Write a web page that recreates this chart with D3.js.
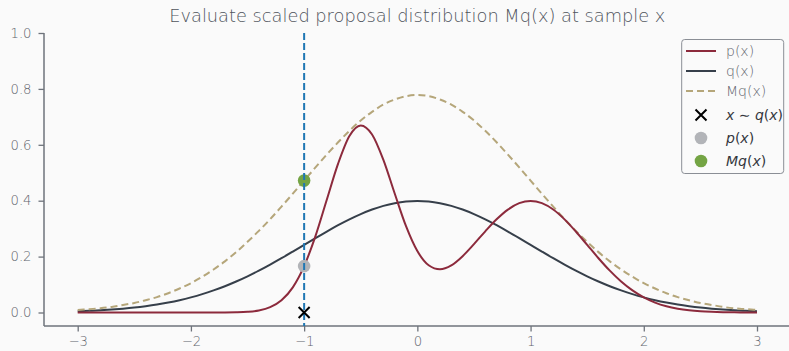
<!DOCTYPE html>
<html><head><meta charset="utf-8">
<script src="https://cdn.jsdelivr.net/npm/d3@7"></script>
<style>
html,body{margin:0;padding:0;background:#fafafa;}
svg{display:block;font-family:"DejaVu Sans",sans-serif;}
.lt{font-weight:200;}
</style></head>
<body><svg id="c" width="789" height="351"></svg>
<script>
// ---- data ----
const xs = [-3.0,-2.9,-2.8,-2.7,-2.6,-2.5,-2.4,-2.3,-2.2,-2.1,-2.0,-1.9,-1.8,-1.7,-1.6,-1.5,-1.4,-1.3,-1.2,-1.1,-1.0,-0.9,-0.8,-0.7,-0.6,-0.5,-0.4,-0.3,-0.2,-0.1,0.0,0.1,0.2,0.3,0.4,0.5,0.6,0.7,0.8,0.9,1.0,1.1,1.2,1.3,1.4,1.5,1.6,1.7,1.8,1.9,2.0,2.1,2.2,2.3,2.4,2.5,2.6,2.7,2.8,2.9,3.0];
const pVals = [0.0000,0.0000,0.0000,0.0000,0.0000,0.0000,0.0000,0.0000,0.0000,0.0000,0.0000,0.0000,0.0001,0.0002,0.0008,0.0026,0.0074,0.0190,0.0437,0.0900,0.1660,0.2734,0.4034,0.5326,0.6315,0.6694,0.6370,0.5461,0.4257,0.3089,0.2199,0.1690,0.1546,0.1687,0.2016,0.2446,0.2905,0.3335,0.3683,0.3911,0.3990,0.3911,0.3683,0.3333,0.2897,0.2420,0.1942,0.1497,0.1109,0.0790,0.0540,0.0355,0.0224,0.0136,0.0079,0.0044,0.0024,0.0012,0.0006,0.0003,0.0001];
const qVals = [0.0044,0.0060,0.0079,0.0104,0.0136,0.0175,0.0224,0.0283,0.0355,0.0440,0.0540,0.0656,0.0790,0.0940,0.1109,0.1295,0.1497,0.1714,0.1942,0.2179,0.2420,0.2661,0.2897,0.3123,0.3332,0.3521,0.3683,0.3814,0.3910,0.3970,0.3989,0.3970,0.3910,0.3814,0.3683,0.3521,0.3332,0.3123,0.2897,0.2661,0.2420,0.2179,0.1942,0.1714,0.1497,0.1295,0.1109,0.0940,0.0790,0.0656,0.0540,0.0440,0.0355,0.0283,0.0224,0.0175,0.0136,0.0104,0.0079,0.0060,0.0044];
const mqVals = [0.009,0.012,0.015,0.020,0.027,0.034,0.044,0.055,0.069,0.086,0.105,0.128,0.154,0.183,0.216,0.253,0.292,0.334,0.379,0.425,0.472,0.519,0.565,0.609,0.650,0.687,0.718,0.744,0.762,0.774,0.778,0.774,0.762,0.744,0.718,0.687,0.650,0.609,0.565,0.519,0.472,0.425,0.379,0.334,0.292,0.253,0.216,0.183,0.154,0.128,0.105,0.086,0.069,0.055,0.044,0.034,0.027,0.020,0.015,0.012,0.009];
const sampleX = -1.0;
const sampleP = 0.166;
const sampleMq = 0.472;
const xTicks = [-3,-2,-1,0,1,2,3];
const yTicks = [0.0,0.2,0.4,0.6,0.8,1.0];
const title = "Evaluate scaled proposal distribution Mq(x) at sample x";
const legendLabels = ["p(x)","q(x)","Mq(x)","x ~ q(x)","p(x)","Mq(x)"];

// ---- drawing ----
const svg = d3.select("#c");
const W = 789, H = 351;
const x = d3.scaleLinear().domain([-3,3]).range([77.7,757]);
const y = d3.scaleLinear().domain([0,1]).range([312.5,33]);
const spineL = 44, spineB = 326;
const C = {p:"#8c2a3c", q:"#363f4a", mq:"#b5a67a", v:"#1f77b4", g:"#74a444", gray:"#b2b4b8", tick:"#5f646c", spine:"#6e737b"};

svg.append("rect").attr("width",W).attr("height",H).attr("fill","#fafafa");

// title
svg.append("text").attr("class","lt").attr("x",417.3).attr("y",21.5).attr("text-anchor","middle")
  .attr("font-size",17.8).attr("fill","#4f545c").text(title);

// axes
const fmtMinus = d => (d<0?"\u2212":"")+Math.abs(d);
const gx = svg.append("g").attr("transform",`translate(0,${spineB})`)
  .call(d3.axisBottom(x).tickValues(xTicks).tickSize(5.5).tickPadding(5).tickFormat(fmtMinus));
const gy = svg.append("g").attr("transform",`translate(${spineL},0)`)
  .call(d3.axisLeft(y).tickValues(yTicks).tickSize(5.5).tickPadding(7).tickFormat(d3.format(".1f")));
[gx,gy].forEach(g=>{
  g.select(".domain").remove();
  g.selectAll(".tick line").attr("stroke",C.spine).attr("stroke-width",1.3);
  g.selectAll(".tick text").attr("class","lt").attr("fill",C.tick).attr("font-size",13.2).attr("font-family","DejaVu Sans");
});
svg.append("line").attr("x1",spineL).attr("x2",W).attr("y1",spineB).attr("y2",spineB)
  .attr("stroke",C.spine).attr("stroke-width",1.5);
svg.append("line").attr("x1",spineL).attr("x2",spineL).attr("y1",y(1)).attr("y2",spineB)
  .attr("stroke",C.spine).attr("stroke-width",1.5);

// curves
const line = vals => d3.line().x((d,i)=>x(xs[i])).y(d=>y(d)).curve(d3.curveMonotoneX)(vals);
svg.append("path").attr("d",line(qVals)).attr("fill","none").attr("stroke",C.q).attr("stroke-width",2);
svg.append("path").attr("d",line(mqVals)).attr("fill","none").attr("stroke",C.mq).attr("stroke-width",2).attr("stroke-dasharray","7,4");
svg.append("path").attr("d",line(pVals)).attr("fill","none").attr("stroke",C.p).attr("stroke-width",2);

// points
svg.append("circle").attr("cx",x(sampleX)).attr("cy",y(sampleP)).attr("r",6.3).attr("fill",C.gray);
svg.append("circle").attr("cx",x(sampleX)).attr("cy",y(sampleMq)).attr("r",6.3).attr("fill",C.g);
// vertical line
svg.append("line").attr("x1",x(sampleX)).attr("x2",x(sampleX)).attr("y1",y(1)).attr("y2",spineB)
  .attr("stroke",C.v).attr("stroke-width",2).attr("stroke-dasharray","7,3");
// cross
function cross(g,cx,cy,s){
  g.append("path").attr("d",`M${cx-s},${cy-s}L${cx+s},${cy+s}M${cx-s},${cy+s}L${cx+s},${cy-s}`)
   .attr("stroke","#000").attr("stroke-width",2).attr("fill","none");
}
cross(svg,x(sampleX),y(0),5.5);

// legend
const lg = svg.append("g");
lg.append("rect").attr("x",681.7).attr("y",39.5).attr("width",102).attr("height",134).attr("rx",3)
  .attr("fill","#fafafa").attr("stroke","#8a8e95").attr("stroke-width",1);
const rows = [51,71,91,115,138,161];
const lx0=686, lx1=716, tx=726;
lg.append("line").attr("x1",lx0).attr("x2",lx1).attr("y1",rows[0]).attr("y2",rows[0]).attr("stroke",C.p).attr("stroke-width",2);
lg.append("line").attr("x1",lx0).attr("x2",lx1).attr("y1",rows[1]).attr("y2",rows[1]).attr("stroke",C.q).attr("stroke-width",2);
lg.append("line").attr("x1",lx0).attr("x2",lx1).attr("y1",rows[2]).attr("y2",rows[2]).attr("stroke",C.mq).attr("stroke-width",2).attr("stroke-dasharray","7,4");
cross(lg,701,rows[3],5.5);
lg.append("circle").attr("cx",701).attr("cy",rows[4]).attr("r",6.3).attr("fill",C.gray);
lg.append("circle").attr("cx",701).attr("cy",rows[5]).attr("r",6.3).attr("fill",C.g);
[0,1,2].forEach(i=>{
  lg.append("text").attr("class","lt").attr("x",tx).attr("y",rows[i]+5).attr("font-size",14).attr("fill","#5f646c").text(legendLabels[i]);
});
function mathText(yy, parts){
  const t = lg.append("text").attr("x",tx).attr("y",yy+5).attr("font-size",14).attr("fill","#33363d");
  parts.forEach(([s,it])=>t.append("tspan").attr("font-style",it?"italic":"normal").text(s));
}
mathText(rows[3],[["x",1],[" \u223C ",0],["q",1],["(",0],["x",1],[")",0]]);
mathText(rows[4],[["p",1],["(",0],["x",1],[")",0]]);
mathText(rows[5],[["Mq",1],["(",0],["x",1],[")",0]]);
</script></body></html>
